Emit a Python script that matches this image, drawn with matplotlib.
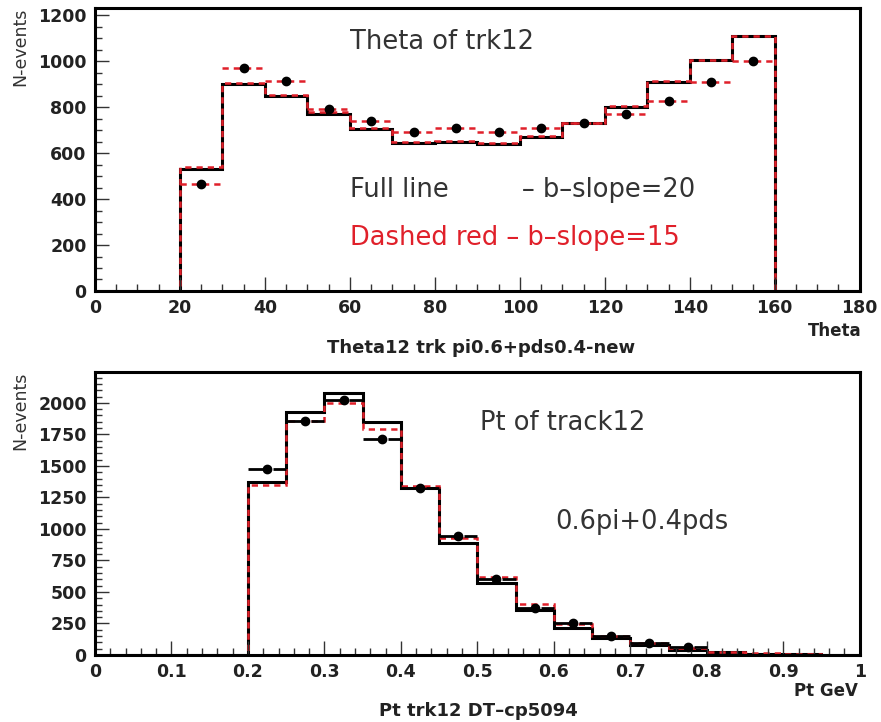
import numpy as np
import matplotlib.pyplot as plt
from matplotlib.ticker import MultipleLocator

plt.rcParams['font.family'] = ['DejaVu Sans']

# --- top panel: theta of trk12 ---
theta_edges = np.arange(0, 190, 10)
theta_full = [0, 0, 529, 900, 848, 772, 703, 645, 649, 639, 671, 729, 801, 910, 1004, 1109, 0, 0]
theta_red = [0, 0, 540, 905, 852, 778, 708, 648, 652, 643, 675, 733, 805, 912, 1006, 1111, 0, 0]
theta_pts_x = [25, 35, 45, 55, 65, 75, 85, 95, 105, 115, 125, 135, 145, 155]
theta_pts_y = [465, 972, 914, 794, 740, 693, 710, 690, 710, 732, 772, 827, 910, 1002]

# --- bottom panel: pt of track12 ---
pt_edges = np.round(np.arange(0, 1.0001, 0.05), 2)
pt_full = [0, 0, 0, 0, 1369, 1925, 2079, 1848, 1324, 892, 569, 357, 217, 132, 79, 40, 21, 10, 5, 2]
pt_red = [0, 0, 0, 0, 1350, 1859, 1999, 1793, 1342, 927, 622, 403, 244, 151, 93, 53, 25, 12, 6, 3]
pt_pts_x = [0.225, 0.275, 0.325, 0.375, 0.425, 0.475, 0.525, 0.575, 0.625, 0.675, 0.725, 0.775]
pt_pts_y = [1475, 1859, 2025, 1716, 1324, 940, 604, 376, 252, 151, 93, 61]

W, H = 881, 722
fig = plt.figure(figsize=(W / 100, H / 100), dpi=100)
ax1 = fig.add_axes([0.1078, 0.597, 0.868, 0.392])
ax2 = fig.add_axes([0.1078, 0.0928, 0.868, 0.392])


def px(x, y):
    # figure fraction from pixel position (top-left origin)
    return x / W, 1 - y / H


tfont = dict(fontsize=12, fontweight='bold', color='#222222')
cap = dict(fontsize=13, fontweight='bold', color='#222222', ha='center', va='center')
big = dict(fontsize=18.5, color='#333333', va='center')


def style_axes(ax):
    for s in ax.spines.values():
        s.set_linewidth(2.2)
    ax.tick_params(which='both', direction='in', top=False, right=False,
                   width=1.0, color='#333333')
    ax.tick_params(which='major', length=10, labelsize=12.5, pad=6)
    ax.tick_params(which='minor', length=5)
    for lab in ax.get_xticklabels() + ax.get_yticklabels():
        lab.set_fontweight('bold')
        lab.set_color('#222222')


# top panel
ax1.stairs(theta_full, theta_edges, color='black', lw=2.2)
ax1.stairs(theta_red, theta_edges, color='#e0202a', lw=1.8, ls=(0, (2.5, 2)))
eb = ax1.errorbar(theta_pts_x, theta_pts_y, xerr=5, fmt='o', color='black',
                  ms=6, ecolor='#e0202a', elinewidth=1.8)
eb[2][0].set_linestyle((0, (2.5, 2)))
ax1.set_xlim(0, 180)
ax1.set_ylim(0, 1232)
ax1.xaxis.set_major_locator(MultipleLocator(20))
ax1.xaxis.set_minor_locator(MultipleLocator(5))
ax1.yaxis.set_major_locator(MultipleLocator(200))
ax1.yaxis.set_minor_locator(MultipleLocator(50))
style_axes(ax1)

fig.text(*px(350, 42), 'Theta of trk12', **big)
fig.text(*px(350, 190), 'Full line         \u2013 b\u2013slope=20', **big)
big_red = dict(big, color='#e0202a')
fig.text(*px(350, 238), 'Dashed red \u2013 b\u2013slope=15', **big_red)
fig.text(*px(862, 331), 'Theta', ha='right', va='center', **tfont)
fig.text(*px(481, 348), 'Theta12 trk pi0.6+pds0.4-new', **cap)
fig.text(*px(20, 47), 'N-events', rotation=90, ha='center', va='center',
         fontsize=12.5, color='#333333')

# bottom panel
ax2.stairs(pt_full, pt_edges, color='black', lw=2.2)
ax2.stairs(pt_red, pt_edges, color='#e0202a', lw=1.8, ls=(0, (2.5, 2)))
eb2 = ax2.errorbar(pt_pts_x, pt_pts_y, xerr=0.025, fmt='o', color='black',
                   ms=6, ecolor='black', elinewidth=2.0)
eb2[2][0].set_linestyle((0, (6, 3)))
ax2.set_xlim(0, 1)
ax2.set_ylim(0, 2245)
ax2.xaxis.set_minor_locator(MultipleLocator(0.02))
ax2.yaxis.set_major_locator(MultipleLocator(250))
ax2.yaxis.set_minor_locator(MultipleLocator(50))
ax2.set_xticks(np.arange(0, 1.01, 0.1))
ax2.set_xticklabels(['0', '0.1', '0.2', '0.3', '0.4', '0.5', '0.6', '0.7', '0.8', '0.9', '1'])
style_axes(ax2)

fig.text(*px(480, 423), 'Pt of track12', **big)
fig.text(*px(555, 522), '0.6pi+0.4pds', **big)
fig.text(*px(858, 691), 'Pt GeV', ha='right', va='center', **tfont)
fig.text(*px(478, 711), 'Pt trk12 DT\u2013cp5094', **cap)
fig.text(*px(20, 411), 'N-events', rotation=90, ha='center', va='center',
         fontsize=12.5, color='#333333')

fig.savefig('out.png', dpi=100)
